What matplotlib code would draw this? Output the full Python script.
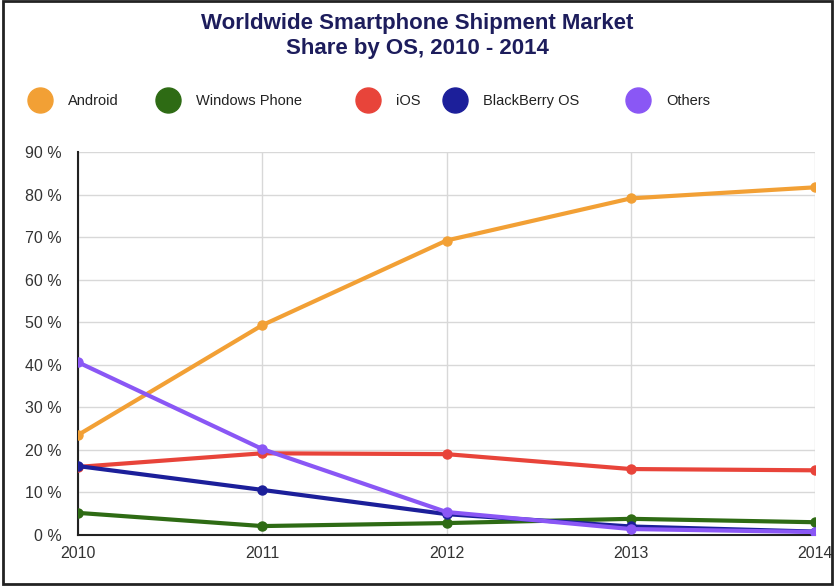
import matplotlib.pyplot as plt
from matplotlib.patches import Rectangle

plt.rcParams['font.family'] = ['Liberation Sans', 'DejaVu Sans']

years = [2010, 2011, 2012, 2013, 2014]
series_names = ['Android', 'Windows Phone', 'iOS', 'BlackBerry OS', 'Others']
android = [23.5, 49.3, 69.2, 79.1, 81.7]
windows_phone = [5.2, 2.1, 2.8, 3.8, 3.0]
ios = [16.0, 19.2, 19.0, 15.5, 15.2]
blackberry = [16.2, 10.6, 4.9, 2.0, 0.8]
others = [40.6, 20.2, 5.4, 1.4, 0.7]
colors = ['#f2a035', '#2e6b14', '#e8443a', '#1c1f9a', '#8a57f5']

fig = plt.figure(figsize=(8.35, 5.87), dpi=100)
ax = fig.add_axes([78 / 835, 1 - 535 / 587, 737 / 835, 383 / 587])

for vals, name, c in zip([android, windows_phone, ios, blackberry, others], series_names, colors):
    ax.plot(years, vals, color=c, lw=3, marker='o', ms=6.5, label=name, zorder=3,
            solid_capstyle='round')

ax.set_xlim(2010, 2014)
ax.set_ylim(0, 90)
ax.set_xticks(years)
ax.set_yticks(range(0, 91, 10))
ax.set_yticklabels([f'{v} %' for v in range(0, 91, 10)])
ax.grid(True, color='#d8d8d8', lw=1)
ax.tick_params(length=0, labelsize=11.5, colors='#333333')
ax.tick_params(axis='y', pad=12)
ax.tick_params(axis='x', pad=8)
for s in ['top', 'right']:
    ax.spines[s].set_visible(False)
ax.spines['left'].set_color('#222222')
ax.spines['bottom'].set_color('#222222')
ax.spines['left'].set_linewidth(1.5)
ax.spines['bottom'].set_linewidth(1.5)
ax.set_axisbelow(True)

fig.text(0.5, 1 - 36 / 587, 'Worldwide Smartphone Shipment Market\nShare by OS, 2010 - 2014',
         ha='center', va='center', fontsize=16, fontweight='bold', color='#1d1d5c',
         linespacing=1.25)

# legend row
legend_x = [40, 168, 368, 455, 638]
for x, name, c in zip(legend_x, series_names, colors):
    fig.lines.append(plt.Line2D([x / 835], [1 - 100 / 587], marker='o', ms=18, color=c,
                                transform=fig.transFigure))
    fig.text((x + 28) / 835, 1 - 101 / 587, name, ha='left', va='center', fontsize=10.5,
             color='#222222')

fig.patches.append(Rectangle((0.003, 0.005), 0.994, 0.993, transform=fig.transFigure,
                             fill=False, ec='#222222', lw=2))

fig.savefig('out.png', dpi=100)
